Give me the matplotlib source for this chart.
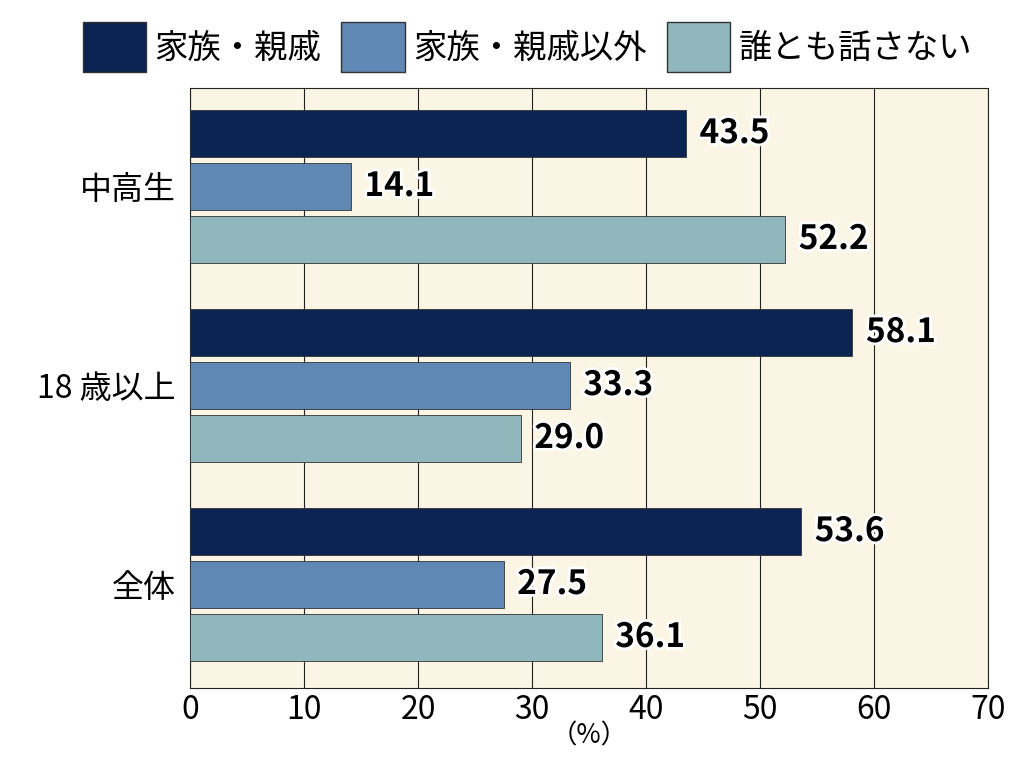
import matplotlib
matplotlib.use("Agg")
import matplotlib.pyplot as plt
import matplotlib.patheffects as pe
from matplotlib.patches import Patch

plt.rcParams["font.family"] = "Noto Sans CJK JP"

categories = ["中高生", "18 歳以上", "全体"]
series_names = ["家族・親戚", "家族・親戚以外", "誰とも話さない"]
family = [43.5, 58.1, 53.6]
non_family = [14.1, 33.3, 27.5]
nobody = [52.2, 29.0, 36.1]
colors = ["#0B2451", "#5F88B5", "#90B8BC"]

fig = plt.figure(figsize=(10.24, 7.68), dpi=100)
ax = fig.add_axes([190/1024, 1-688/768, 798/1024, 600/768])
ax.set_facecolor("#FBF5E6")

step = 0.266
h = 0.24
for i, cat in enumerate(categories):
    for j, vals in enumerate([family, non_family, nobody]):
        y = i + (j - 1) * step
        ax.barh(y, vals[i], height=h, color=colors[j], edgecolor="#333333", linewidth=0.6, zorder=3)
        t = ax.text(vals[i] + 1.2, y, f"{vals[i]:.1f}", va="center", ha="left",
                    fontsize=24, fontweight="bold", zorder=4)
        t.set_path_effects([pe.withStroke(linewidth=4, foreground="white")])

ax.set_xlim(0, 70)
ax.set_ylim(2.52, -0.495)
ax.set_xticks(range(0, 71, 10))
ax.set_yticks(range(3))
ax.set_yticklabels(categories)
ax.tick_params(axis="both", labelsize=23, length=0)
ax.tick_params(axis="y", pad=10)
ax.tick_params(axis="x", pad=4)
ax.grid(axis="x", color="#222222", linewidth=0.8, zorder=1)
for s in ax.spines.values():
    s.set_color("#222222")
    s.set_linewidth(0.8)
ax.text(35, 2.76, "（%）", ha="center", va="center", fontsize=19, clip_on=False)

handles = [Patch(facecolor=c, edgecolor="#333333") for c in colors]
fig.legend(handles, series_names, loc="upper center", bbox_to_anchor=(0.515, 1.01), ncol=3,
           frameon=False, fontsize=24, handlelength=1.9, handleheight=1.9,
           handletextpad=0.25, columnspacing=0.6)

fig.savefig("out.png", dpi=100)
